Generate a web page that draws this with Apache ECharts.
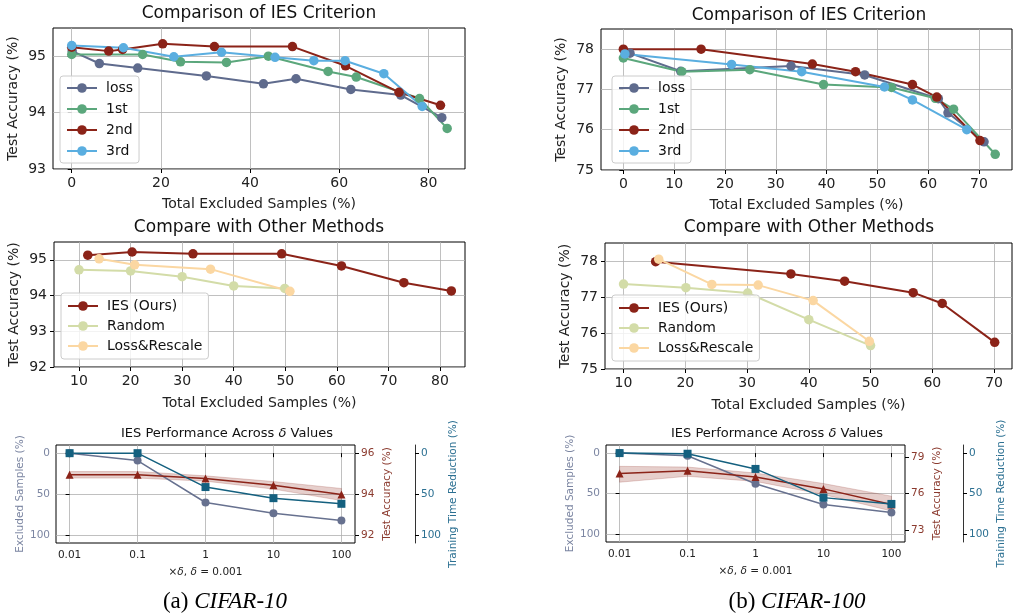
<!DOCTYPE html>
<html>
<head>
<meta charset="utf-8">
<script src="https://cdn.jsdelivr.net/npm/echarts@6/dist/echarts.min.js"></script>
<style>
  html, body { margin: 0; padding: 0; background: #fff; }
  #main { width: 1013px; height: 614px; }
</style>
</head>
<body>
<div id="main"></div>
<script>
// ---------- data ----------
// Comparison of IES Criterion, CIFAR-10  [excluded %, accuracy %]
const c10Loss   = [[0.1,95.09],[6.2,94.87],[14.8,94.79],[30.2,94.65],[43,94.51],[50.3,94.6],[62.6,94.41],[73.8,94.31],[83,93.91]];
const c10First  = [[0,95.03],[15.9,95.03],[24.4,94.9],[34.7,94.89],[44.1,95.0],[57.5,94.73],[63.8,94.63],[78,94.25],[84.2,93.72]];
const c10Second = [[0,95.16],[8.3,95.09],[11.4,95.12],[20.4,95.22],[32,95.17],[49.5,95.17],[61.4,94.83],[73.4,94.36],[82.7,94.13]];
const c10Third  = [[0,95.19],[11.6,95.15],[22.9,94.99],[33.6,95.07],[45.6,94.98],[54.3,94.92],[61.3,94.92],[70,94.69],[78.6,94.11]];

// Comparison of IES Criterion, CIFAR-100
const c100Loss   = [[1.3,77.9],[11.3,77.45],[33,77.58],[47.5,77.36],[62,76.77],[63.9,76.42],[71,75.7]];
const c100First  = [[0,77.78],[11.5,77.44],[24.9,77.49],[39.4,77.12],[52.8,77.05],[61.4,76.78],[65,76.51],[73.2,75.39]];
const c100Second = [[0,78.0],[15.3,78.0],[37.2,77.63],[45.7,77.44],[56.9,77.12],[61.7,76.81],[70.2,75.73]];
const c100Third  = [[0.3,77.88],[21.3,77.62],[35.1,77.44],[51.4,77.06],[56.9,76.74],[67.6,76.0]];

// Compare with Other Methods
const c10Ies      = [[11.7,95.13],[20.3,95.22],[32.1,95.17],[49.3,95.17],[60.9,94.83],[73,94.36],[82.2,94.13]];
const c10Random   = [[10,94.72],[20,94.69],[30,94.53],[40,94.27],[49.9,94.2]];
const c10Rescale  = [[13.9,95.03],[20.8,94.86],[35.5,94.74],[50.9,94.12]];
const c100Ies     = [[15.2,77.98],[37.1,77.64],[45.8,77.44],[56.9,77.12],[61.6,76.82],[70.1,75.74]];
const c100Random  = [[10,77.36],[20.1,77.26],[30.1,77.11],[40,76.37],[50,75.65]];
const c100Rescale = [[15.7,78.05],[24.3,77.35],[31.8,77.33],[40.7,76.9],[49.8,75.77]];

// IES Performance Across delta values
const deltaLabels   = ['0.01', '0.1', '1', '10', '100'];
const c10Excluded   = [0, 9, 60.4, 73.5, 82.4];
const c10TimeRed    = [0, 0, 41.5, 55.1, 62];
const c10Acc        = [94.94, 94.94, 94.76, 94.43, 93.98];
const c10AccLow     = [94.78, 94.78, 94.63, 94.24, 93.68];
const c10AccHigh    = [95.10, 95.10, 94.89, 94.61, 94.27];
const c100Excluded  = [0, 3.3, 38, 63.7, 73.5];
const c100TimeRed   = [0, 0.8, 19.6, 55.1, 62.9];
const c100Acc       = [77.64, 77.88, 77.37, 76.38, 75.1];
const c100AccLow    = [76.93, 77.42, 77.0, 75.92, 74.56];
const c100AccHigh   = [78.24, 78.18, 77.69, 76.82, 75.78];

// tick labels
const c10CritXTicks  = [0, 20, 40, 60, 80];
const c10CritYTicks  = [93, 94, 95];
const c100CritXTicks = [0, 10, 20, 30, 40, 50, 60, 70];
const c100YTicks     = [75, 76, 77, 78];
const c10CmpXTicks   = [10, 20, 30, 40, 50, 60, 70, 80];
const c10CmpYTicks   = [92, 93, 94, 95];
const c100CmpXTicks  = [10, 20, 30, 40, 50, 60, 70];
const deltaTicks     = [0, 1, 2, 3, 4];
const pctTicks       = [0, 50, 100];
const c10AccTicks    = [92, 94, 96];
const c100AccTicks   = [73, 76, 79];

// ---------- style ----------
const FONT = 'DejaVu Sans';
const COL = {
  loss: '#5f6b8d', first: '#5ba77c', second: '#8b2318', third: '#5aaee0',
  random: '#d3dca8', rescale: '#fbd7a2',
  excl: '#67718f', exclText: '#7c86a2', acc: '#8b2318', accText: '#8b3a2e',
  time: '#14607f', timeText: '#2c7092'
};

function baseAxis(grid, min, max, ticks, fs) {
  return {
    type: 'value', gridIndex: grid, min: min, max: max,
    axisLine: { show: false },
    axisTick: { show: true, inside: false, length: 4, customValues: ticks, lineStyle: { color: '#000', width: 1 } },
    axisLabel: { customValues: ticks, fontSize: fs, fontFamily: FONT, color: '#222', margin: 7 },
    splitLine: { show: true, lineStyle: { color: '#b0b0b0', width: 0.8 } },
    nameLocation: 'middle',
    nameTextStyle: { fontSize: fs, fontFamily: FONT, color: '#222' }
  };
}

function line(name, data, color, idx, extra) {
  return Object.assign({
    type: 'line', name: name, data: data,
    xAxisIndex: idx[0], yAxisIndex: idx[1],
    symbol: 'circle', symbolSize: 9.5,
    lineStyle: { width: 2, color: color },
    itemStyle: { color: color },
    color: color
  }, extra || {});
}

function frameGrid(left, top, width, height) {
  return { left: left, top: top, width: width, height: height, show: true, borderColor: '#000', borderWidth: 1, backgroundColor: 'transparent' };
}

function legendBox(names, left, top, gap, pad) {
  return {
    data: names, left: left, top: top, orient: 'vertical',
    itemWidth: 30, itemHeight: 12, itemGap: gap, padding: pad,
    backgroundColor: 'rgba(255,255,255,0.8)', borderColor: '#cccccc', borderWidth: 1, borderRadius: 3,
    textStyle: { fontSize: 14, fontFamily: FONT, color: '#111', padding: [0, 0, 0, 4] }
  };
}

function heading(text, x, y, fs) {
  return {
    text: text, left: x, top: y, textAlign: 'center', padding: 0,
    textStyle: { fontSize: fs, fontWeight: 'normal', fontFamily: FONT, color: '#111',
      rich: { i: { fontSize: fs, fontStyle: 'italic', fontFamily: FONT, color: '#111' } } }
  };
}

function caption(text, x) {
  return {
    text: text, left: x, top: 590, textAlign: 'center', padding: 0,
    textStyle: { fontSize: 23, fontWeight: 'normal', fontFamily: 'Liberation Serif', color: '#000',
      rich: { i: { fontSize: 23, fontStyle: 'italic', fontFamily: 'Liberation Serif', color: '#000' } } }
  };
}

// ---------- axes ----------
const xAxes = [];
const yAxes = [];

let ax = baseAxis(0, -4.2, 88.2, c10CritXTicks, 14);
ax.name = 'Total Excluded Samples (%)'; ax.nameGap = 28; xAxes.push(ax);
ax = baseAxis(1, -4.4, 76.5, c100CritXTicks, 14);
ax.name = 'Total Excluded Samples (%)'; ax.nameGap = 28; xAxes.push(ax);
ax = baseAxis(2, 5.15, 84.85, c10CmpXTicks, 14);
ax.name = 'Total Excluded Samples (%)'; ax.nameGap = 29; xAxes.push(ax);
ax = baseAxis(3, 7, 72.9, c100CmpXTicks, 14);
ax.name = 'Total Excluded Samples (%)'; ax.nameGap = 29; xAxes.push(ax);
for (const g of [4, 5]) {
  ax = baseAxis(g, -0.2, 4.2, deltaTicks, 10.5);
  ax.axisLabel.formatter = v => deltaLabels[Math.round(v)];
  ax.name = '×{i|δ}, {i|δ} = 0.001'; ax.nameGap = 24;
  ax.nameTextStyle.rich = { i: { fontSize: 10.5, fontStyle: 'italic', fontFamily: FONT, color: '#222' } };
  xAxes.push(ax);
}

ax = baseAxis(0, 93, 95.5, c10CritYTicks, 14);
ax.name = 'Test Accuracy (%)'; ax.nameGap = 33; yAxes.push(ax);
ax = baseAxis(1, 75, 78.5, c100YTicks, 14);
ax.name = 'Test Accuracy (%)'; ax.nameGap = 33; yAxes.push(ax);
ax = baseAxis(2, 92, 95.5, c10CmpYTicks, 14);
ax.name = 'Test Accuracy (%)'; ax.nameGap = 33; yAxes.push(ax);
ax = baseAxis(3, 75, 78.5, c100YTicks, 14);
ax.name = 'Test Accuracy (%)'; ax.nameGap = 33; yAxes.push(ax);

function deltaYAxes(g, accMin, accMax, accTicks, timeOffset) {
  const ex = baseAxis(g, -10, 110, pctTicks, 10.5);
  ex.inverse = true; ex.position = 'left';
  ex.axisLabel.color = COL.exclText; ex.axisLabel.margin = 6;
  ex.name = 'Excluded Samples (%)'; ex.nameGap = 30;
  ex.nameTextStyle.color = COL.exclText;

  const acc = baseAxis(g, accMin, accMax, accTicks, 10.5);
  acc.position = 'right'; acc.splitLine = { show: false };
  acc.axisLabel.color = COL.accText; acc.axisLabel.margin = 6;
  acc.name = 'Test Accuracy (%)'; acc.nameGap = 27;
  acc.nameTextStyle.color = COL.accText;

  const tm = baseAxis(g, -10, 110, pctTicks, 10.5);
  tm.inverse = true; tm.position = 'right'; tm.offset = timeOffset;
  tm.splitLine = { show: false };
  tm.axisLine = { show: true, onZero: false, lineStyle: { color: '#333', width: 1 } };
  tm.axisLabel.color = COL.timeText; tm.axisLabel.margin = 6;
  tm.name = 'Training Time Reduction (%)'; tm.nameGap = 33;
  tm.nameTextStyle.color = COL.timeText;
  return [ex, acc, tm];
}
yAxes.push(...deltaYAxes(4, 91.6, 96.4, c10AccTicks, 60));
yAxes.push(...deltaYAxes(5, 72, 80, c100AccTicks, 58));

// ---------- series ----------
const idxPts = arr => arr.map((v, i) => [i, v]);

// shaded accuracy band, drawn as one polygon through the axis scales
function bandSeries(xi, yi, low, high) {
  return {
    type: 'custom', xAxisIndex: xi, yAxisIndex: yi, silent: true, z: 1,
    data: low.map((v, i) => [i, v, high[i]]),
    encode: { x: 0, y: [1, 2] },
    renderItem: function (params, api) {
      if (params.dataIndex !== 0) return null;
      const pts = [];
      for (let i = 0; i < high.length; i++) pts.push(api.coord([i, high[i]]));
      for (let i = low.length - 1; i >= 0; i--) pts.push(api.coord([i, low[i]]));
      return {
        type: 'polygon', shape: { points: pts },
        style: { fill: 'rgba(140,35,24,0.22)', stroke: 'rgba(140,35,24,0.25)', lineWidth: 0.8 }
      };
    }
  };
}

function deltaSeries(tag, xi, yBase, excl, acc, low, high, time) {
  return [
    bandSeries(xi, yBase + 1, low, high),
    line(tag + '-excluded', idxPts(excl), COL.excl, [xi, yBase], { symbolSize: 8, lineStyle: { width: 1.5, color: COL.excl } }),
    line(tag + '-acc', idxPts(acc), COL.acc, [xi, yBase + 1], { symbol: 'triangle', symbolSize: 8, lineStyle: { width: 1.5, color: COL.acc } }),
    line(tag + '-time', idxPts(time), COL.time, [xi, yBase + 2], { symbol: 'rect', symbolSize: 8, lineStyle: { width: 1.5, color: COL.time } })
  ];
}

const series = [
  line('loss', c10Loss, COL.loss, [0, 0]),
  line('1st', c10First, COL.first, [0, 0]),
  line('2nd', c10Second, COL.second, [0, 0]),
  line('3rd', c10Third, COL.third, [0, 0]),
  line('loss', c100Loss, COL.loss, [1, 1]),
  line('1st', c100First, COL.first, [1, 1]),
  line('2nd', c100Second, COL.second, [1, 1]),
  line('3rd', c100Third, COL.third, [1, 1]),
  line('IES (Ours)', c10Ies, COL.second, [2, 2]),
  line('Random', c10Random, COL.random, [2, 2]),
  line('Loss&Rescale', c10Rescale, COL.rescale, [2, 2]),
  line('IES (Ours)', c100Ies, COL.second, [3, 3]),
  line('Random', c100Random, COL.random, [3, 3]),
  line('Loss&Rescale', c100Rescale, COL.rescale, [3, 3])
].concat(
  deltaSeries('c10', 4, 4, c10Excluded, c10Acc, c10AccLow, c10AccHigh, c10TimeRed),
  deltaSeries('c100', 5, 7, c100Excluded, c100Acc, c100AccLow, c100AccHigh, c100TimeRed)
);

// ---------- chart ----------
const myChart = echarts.init(document.getElementById('main'));
myChart.setOption({
  backgroundColor: '#fff',
  animation: false,
  textStyle: { fontFamily: FONT },
  title: [
    heading('Comparison of IES Criterion', 259, 5, 17),
    heading('Comparison of IES Criterion', 809, 7, 17),
    heading('Compare with Other Methods', 259, 219, 17),
    heading('Compare with Other Methods', 809, 219, 17),
    heading('IES Performance Across {i|δ} Values', 227, 427, 13),
    heading('IES Performance Across {i|δ} Values', 777, 427, 13),
    caption('(a) {i|CIFAR-10}', 225),
    caption('(b) {i|CIFAR-100}', 797)
  ],
  legend: [
    legendBox(['loss', '1st', '2nd', '3rd'], 60, 76, 7, [5, 6]),
    legendBox(['loss', '1st', '2nd', '3rd'], 612, 76, 7, [5, 6]),
    legendBox(['IES (Ours)', 'Random', 'Loss&Rescale'], 61, 293, 6, [6, 6]),
    legendBox(['IES (Ours)', 'Random', 'Loss&Rescale'], 612, 295, 6, [6, 6])
  ],
  grid: [
    frameGrid(53, 28, 412, 141),
    frameGrid(601, 29, 411, 141),
    frameGrid(54, 242, 411, 125),
    frameGrid(605, 243, 407, 126),
    frameGrid(56, 445, 299, 98),
    frameGrid(606, 445, 299, 97)
  ],
  xAxis: xAxes,
  yAxis: yAxes,
  series: series
});
</script>
</body>
</html>
